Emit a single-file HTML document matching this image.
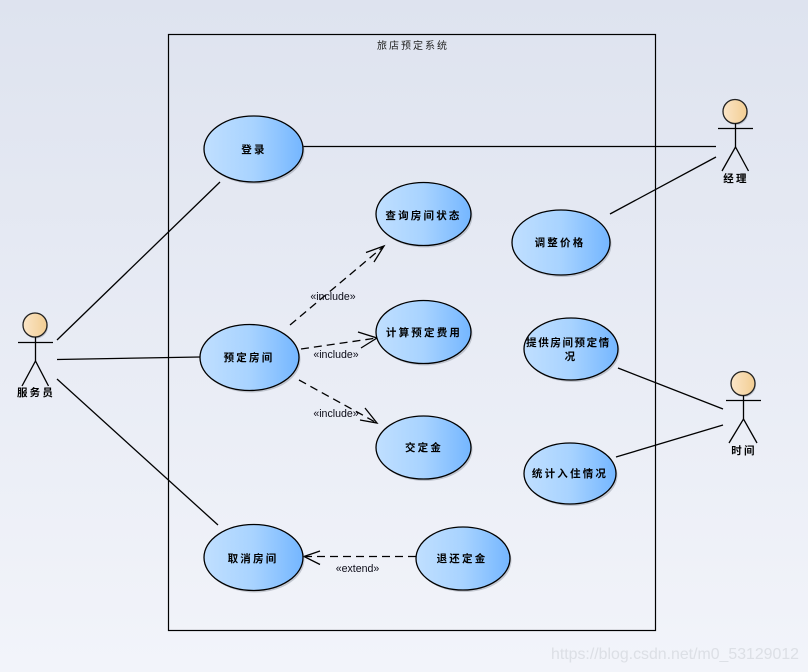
<!DOCTYPE html>
<html>
<head>
<meta charset="utf-8">
<style>
html,body{margin:0;padding:0;width:808px;height:672px;overflow:hidden;background:#e8ecf5}
svg{display:block}
.u{font-family:"Liberation Sans","Noto Sans CJK SC",sans-serif;font-size:10.5px;font-weight:700;fill:#000;text-anchor:middle;letter-spacing:2.2px}
.l{font-family:"Liberation Sans",sans-serif;font-size:10.6px;fill:#0c0c18;text-anchor:middle}
.t{font-family:"Liberation Sans","Noto Sans CJK SC",sans-serif;font-size:10px;fill:#222;text-anchor:middle;letter-spacing:2px}
.ln{stroke:#000;stroke-width:1.3;fill:none}
.d{stroke:#000;stroke-width:1.3;fill:none;stroke-dasharray:8 5}
.a{stroke:#000;stroke-width:1.3;fill:none}
.e{fill:url(#g);stroke:#000;stroke-width:1.3}
.s{fill:#7f8794;opacity:.4}
.h{fill:url(#f);stroke:#222;stroke-width:1.3}
</style>
</head>
<body>
<svg width="808" height="672" viewBox="0 0 808 672" xmlns="http://www.w3.org/2000/svg">
<defs>
<linearGradient id="bg" x1="0" y1="0" x2="0" y2="1"><stop offset="0" stop-color="#dee3ef"/><stop offset="1" stop-color="#f2f4fa"/></linearGradient>
<linearGradient id="g" x1="0" y1="0" x2="1" y2="0"><stop offset="0" stop-color="#c0dfff"/><stop offset="0.5" stop-color="#a8d3ff"/><stop offset="1" stop-color="#74b6ff"/></linearGradient>
<linearGradient id="f" x1="0" y1="0" x2="1" y2="0"><stop offset="0" stop-color="#fbe6c8"/><stop offset="1" stop-color="#f2cd92"/></linearGradient>
</defs>
<rect width="808" height="672" fill="url(#bg)"/>
<rect x="168.5" y="34.5" width="487" height="596" fill="none" stroke="#000" stroke-width="1.2"/>
<text class="t" x="413" y="49">旅店预定系统</text>

<g class="ln">
<line x1="303" y1="146.5" x2="716" y2="146.5"/>
<line x1="57" y1="340" x2="220" y2="182"/>
<line x1="57" y1="359.5" x2="200" y2="357"/>
<line x1="57" y1="379" x2="218" y2="525"/>
<line x1="610" y1="214" x2="716" y2="157"/>
<line x1="618" y1="368" x2="723" y2="409"/>
<line x1="616" y1="457" x2="723" y2="425"/>
</g>

<g>
<line class="d" x1="290" y1="325" x2="384" y2="246"/>
<polyline class="a" points="366,252.5 384,246 374,262"/>
<line class="d" x1="301" y1="349" x2="377" y2="338"/>
<polyline class="a" points="358,332 377,338 361,348"/>
<line class="d" x1="299" y1="380" x2="377" y2="423"/>
<polyline class="a" points="365,408 377,423 360,420"/>
<line class="d" x1="416" y1="556.5" x2="304" y2="556.5"/>
<polyline class="a" points="320,551 304,556.5 320,564.5"/>
</g>

<g>
<ellipse class="s" cx="255" cy="151" rx="49.5" ry="33"/><ellipse class="e" cx="253.5" cy="149" rx="49.5" ry="33"/>
<ellipse class="s" cx="425" cy="216" rx="47.5" ry="31.5"/><ellipse class="e" cx="423.5" cy="214" rx="47.5" ry="31.5"/>
<ellipse class="s" cx="425" cy="334" rx="47.5" ry="31.5"/><ellipse class="e" cx="423.5" cy="332" rx="47.5" ry="31.5"/>
<ellipse class="s" cx="425" cy="449.5" rx="47.5" ry="31.5"/><ellipse class="e" cx="423.5" cy="447.5" rx="47.5" ry="31.5"/>
<ellipse class="s" cx="251" cy="359.5" rx="49.5" ry="33"/><ellipse class="e" cx="249.5" cy="357.5" rx="49.5" ry="33"/>
<ellipse class="s" cx="255" cy="559.5" rx="49.5" ry="33"/><ellipse class="e" cx="253.5" cy="557.5" rx="49.5" ry="33"/>
<ellipse class="s" cx="464.5" cy="560.5" rx="47" ry="31.5"/><ellipse class="e" cx="463" cy="558.5" rx="47" ry="31.5"/>
<ellipse class="s" cx="562.5" cy="244.5" rx="49" ry="32.5"/><ellipse class="e" cx="561" cy="242.5" rx="49" ry="32.5"/>
<ellipse class="s" cx="572.5" cy="351" rx="47" ry="31"/><ellipse class="e" cx="571" cy="349" rx="47" ry="31"/>
<ellipse class="s" cx="571.5" cy="475.5" rx="46" ry="30.5"/><ellipse class="e" cx="570" cy="473.5" rx="46" ry="30.5"/>
</g>

<text class="u" x="254" y="153">登录</text>
<text class="u" x="423.5" y="219">查询房间状态</text>
<text class="u" x="424" y="336">计算预定费用</text>
<text class="u" x="424" y="451">交定金</text>
<text class="u" x="249" y="361">预定房间</text>
<text class="u" x="253" y="562">取消房间</text>
<text class="u" x="462" y="562">退还定金</text>
<text class="u" x="560" y="246">调整价格</text>
<text class="u" x="568.5" y="346" style="letter-spacing:1.6px">提供房间预定情</text>
<text class="u" x="571" y="360">况</text>
<text class="u" x="570" y="477">统计入住情况</text>

<text class="l" x="333" y="300">«include»</text>
<text class="l" x="336" y="358">«include»</text>
<text class="l" x="336" y="417">«include»</text>
<text class="l" x="357.5" y="572">«extend»</text>

<g>
<circle cx="36" cy="326.5" r="12" class="s"/>
<circle class="h" cx="35" cy="325" r="12"/>
<g class="ln"><line x1="18" y1="342.5" x2="53" y2="342.5"/><line x1="35.5" y1="337" x2="35.5" y2="361"/><polyline points="22,386 35.5,361 48.5,386"/></g>
<text class="u" x="36" y="396">服务员</text>

<circle cx="736" cy="113" r="12" class="s"/>
<circle class="h" cx="735" cy="111.5" r="12"/>
<g class="ln"><line x1="718" y1="128.5" x2="753" y2="128.5"/><line x1="735.5" y1="123.5" x2="735.5" y2="147"/><polyline points="722,171 735.5,147 748.5,171"/></g>
<text class="u" x="736" y="182">经理</text>

<circle cx="744" cy="385" r="12" class="s"/>
<circle class="h" cx="743" cy="383.5" r="12"/>
<g class="ln"><line x1="726" y1="400.5" x2="761" y2="400.5"/><line x1="743.5" y1="395.5" x2="743.5" y2="419"/><polyline points="729,443 743.5,419 757,443"/></g>
<text class="u" x="744" y="454">时间</text>
</g>

<text x="675" y="659" font-family="'Liberation Sans',sans-serif" font-size="16" fill="#c8cbd2" fill-opacity="0.5" text-anchor="middle" textLength="248" lengthAdjust="spacingAndGlyphs">https://blog.csdn.net/m0_53129012</text>
</svg>
</body>
</html>
